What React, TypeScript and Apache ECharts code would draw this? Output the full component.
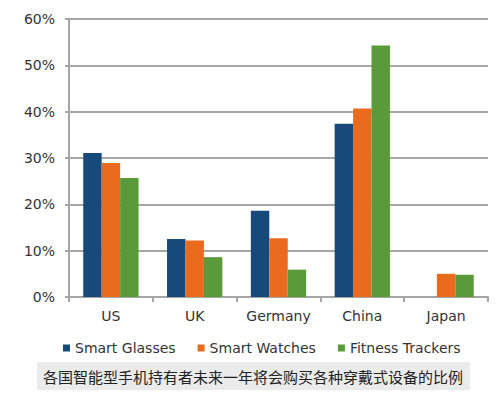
import React, { useEffect, useRef } from "react";
import * as echarts from "echarts";

const categories = ["US", "UK", "Germany", "China", "Japan"];
const smartGlasses: (number | null)[] = [31.1, 12.5, 18.6, 37.4, null];
const smartWatches: (number | null)[] = [28.9, 12.2, 12.7, 40.7, 5.0];
const fitnessTrackers: (number | null)[] = [25.7, 8.6, 5.9, 54.3, 4.8];
const seriesNames = ["Smart Glasses", "Smart Watches", "Fitness Trackers"];
const caption = "各国智能型手机持有者未来一年将会购买各种穿戴式设备的比例";

export default function App() {
  const ref = useRef<HTMLDivElement>(null);
  useEffect(() => {
    if (!ref.current) return;
    const chart = echarts.init(ref.current, null, { renderer: "svg" });
    const font = "DejaVu Sans";
    chart.setOption({
      animation: false,
      backgroundColor: "#ffffff",
      color: ["#17497a", "#ea6a1e", "#5b9a3a"],
      grid: { left: 69, right: 12, top: 19, bottom: 97 },
      legend: {
        data: seriesNames,
        left: 58,
        top: 336,
        icon: "rect",
        itemWidth: 7,
        itemHeight: 7,
        itemGap: 22,
        textStyle: { fontFamily: font, fontSize: 14, color: "#333" },
      },
      xAxis: {
        type: "category",
        data: categories,
        axisLine: { lineStyle: { color: "#a6a6a6", width: 2 } },
        axisTick: { show: true, length: 5, lineStyle: { color: "#a6a6a6", width: 2 } },
        axisLabel: { fontFamily: font, fontSize: 14, color: "#333", margin: 12 },
      },
      yAxis: {
        type: "value",
        min: 0,
        max: 60,
        interval: 10,
        axisLine: { show: true, lineStyle: { color: "#a6a6a6", width: 2 } },
        axisTick: { show: true, length: 4, lineStyle: { color: "#a6a6a6", width: 2 } },
        axisLabel: { formatter: "{value}%", fontFamily: font, fontSize: 14, color: "#333", margin: 14 },
        splitLine: { lineStyle: { color: "#a6a6a6", width: 2 } },
      },
      series: [
        { name: seriesNames[0], type: "bar", data: smartGlasses, barGap: "0%", barCategoryGap: "34%" },
        { name: seriesNames[1], type: "bar", data: smartWatches, barGap: "0%", barCategoryGap: "34%" },
        { name: seriesNames[2], type: "bar", data: fitnessTrackers, barGap: "0%", barCategoryGap: "34%" },
      ],
      graphic: [
        {
          type: "rect",
          shape: { x: 37, y: 362, width: 433, height: 28 },
          style: { fill: "#ebebeb" },
          z: 0,
        },
        {
          type: "text",
          x: 253,
          y: 376,
          style: {
            text: caption,
            fontFamily: "Noto Sans CJK SC",
            fontSize: 15,
            fill: "#222",
            textAlign: "center",
            textVerticalAlign: "middle",
          },
          z: 1,
        },
      ],
    });
    return () => chart.dispose();
  }, []);
  return <div ref={ref} style={{ width: 500, height: 394, position: "absolute", left: 0, top: 0 }} />;
}
